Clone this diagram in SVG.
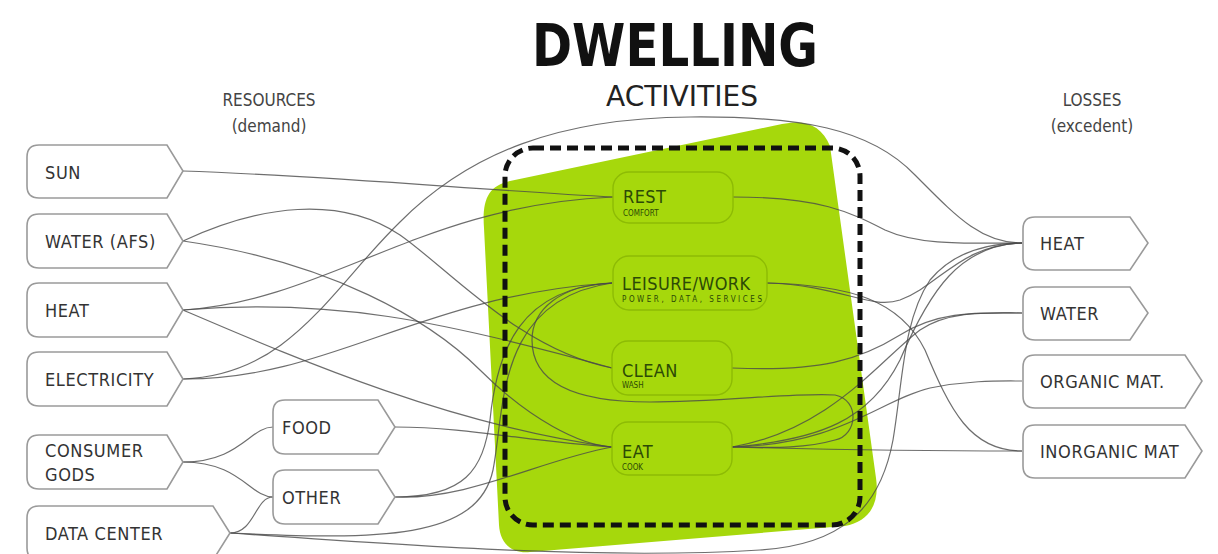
<svg xmlns="http://www.w3.org/2000/svg" width="1218" height="554" viewBox="0 0 1218 554">
  <style>
    .lbl { font-family: "DejaVu Sans Condensed", "DejaVu Sans", sans-serif; font-stretch: condensed; font-size: 18px; fill: #333; letter-spacing: 0.6px; }
    .hdr { font-family: "DejaVu Sans Condensed", "DejaVu Sans", sans-serif; font-stretch: condensed; font-size: 17px; fill: #444; }
    .box { fill: #fff; stroke: #9a9a9a; stroke-width: 1.6; }
    .act { fill: #a6d80c; stroke: #8dbb05; stroke-width: 1.4; }
    .actl { font-family: "DejaVu Sans Condensed", "DejaVu Sans", sans-serif; font-stretch: condensed; font-size: 18px; fill: #2c4a06; letter-spacing: 0.4px; }
    .acts { font-family: "DejaVu Sans Condensed", "DejaVu Sans", sans-serif; font-stretch: condensed; font-size: 8px; fill: #2c4a06; }
    .wire { fill: none; stroke: #4a4a4a; stroke-width: 1.2; stroke-opacity: 0.8; }
  </style>

  <rect width="1218" height="554" fill="#fff"/>

  <!-- titles -->
  <g id="titles">
    <text x="675" y="66" text-anchor="middle" textLength="286" lengthAdjust="spacingAndGlyphs" style="font-family:'DejaVu Sans Condensed','DejaVu Sans',sans-serif;font-stretch:condensed;font-weight:bold;font-size:58px;fill:#111">DWELLING</text>
    <text x="682" y="106" text-anchor="middle" textLength="152" lengthAdjust="spacingAndGlyphs" style="font-family:'DejaVu Sans Condensed','DejaVu Sans',sans-serif;font-stretch:condensed;font-size:28px;fill:#222">ACTIVITIES</text>
    <text class="hdr" x="269" y="106" text-anchor="middle">RESOURCES</text>
    <text class="hdr" x="269" y="132" text-anchor="middle">(demand)</text>
    <text class="hdr" x="1092" y="106" text-anchor="middle">LOSSES</text>
    <text class="hdr" x="1092" y="132" text-anchor="middle">(excedent)</text>
  </g>

  <!-- green activity field -->
  <path id="field" d="M484,228 C482,200 488,186 510,181 L782,124 C806,119 822,126 830,146 L876,478 C880,505 868,522 845,526 L530,552 C510,554 500,542 499,525 Z" fill="#a6d80c"/>

  <!-- connectors -->
  <g id="connectors">
    <!-- resources to activities -->
    <path class="wire" d="M183,171 C330,176 480,190 613,197"/>
    <path class="wire" d="M183,241 C260,205 340,195 400,235 C450,270 520,350 612,368"/>
    <path class="wire" d="M183,241 C330,262 430,320 480,370 C530,420 580,445 612,447"/>
    <path class="wire" d="M183,310 C330,300 420,205 613,197"/>
    <path class="wire" d="M183,310 C330,298 440,320 612,368"/>
    <path class="wire" d="M183,310 C300,360 450,425 612,447"/>
    <path class="wire" d="M183,379 C330,380 420,295 612,283"/>
    <path class="wire" d="M183,379 C290,375 330,290 400,222 C470,152 560,118 690,117 C800,116 870,128 915,175 C955,215 980,243 1022,243"/>
    <path class="wire" d="M183,462 C240,462 250,427 273,427"/>
    <path class="wire" d="M183,462 C240,462 250,497 273,497"/>
    <path class="wire" d="M230,533 C255,533 255,497 273,497"/>
    <path class="wire" d="M395,427 C470,427 530,442 612,447"/>
    <path class="wire" d="M395,497 C470,500 540,460 612,447"/>
    <path class="wire" d="M395,497 C465,497 483,470 490,420 C497,350 520,288 612,283"/>
    <path class="wire" d="M230,533 C380,540 478,540 493,470 C505,410 495,300 612,283"/>
    <path class="wire" d="M230,533 C400,545 600,560 760,550 C840,545 880,510 893,440 C903,380 903,320 930,280 C955,250 990,243 1022,243"/>
    <!-- loop between leisure/work and eat -->
    <path class="wire" d="M612,283 C560,285 532,310 532,340 C532,380 570,402 650,402 C720,402 800,392 835,395 C860,400 858,435 835,440 C800,450 760,447 732,447"/>
    <!-- activities to losses -->
    <path class="wire" d="M733,197 C820,197 850,212 885,230 C920,246 970,243 1022,243"/>
    <path class="wire" d="M767,283 C850,285 900,300 925,350 C950,410 970,451 1022,451"/>
    <path class="wire" d="M767,283 C840,285 870,310 900,300 C940,285 960,245 1022,243"/>
    <path class="wire" d="M732,368 C820,372 860,360 900,335 C940,310 980,313 1022,313"/>
    <path class="wire" d="M732,447 C820,440 870,420 900,360 C930,290 960,245 1022,243"/>
    <path class="wire" d="M732,447 C830,430 880,360 920,330 C950,310 990,313 1022,313"/>
    <path class="wire" d="M732,447 C840,445 880,400 930,388 C970,380 1000,381 1022,381"/>
    <path class="wire" d="M732,447 C850,450 950,451 1022,451"/>
  </g>

  <!-- dashed boundary -->
  <rect id="boundary" x="505" y="148" width="355" height="377" rx="28" fill="none" stroke="#111" stroke-width="5" stroke-dasharray="11 6"/>

  <!-- resource nodes -->
  <g id="sun"><path class="box" d="M39,145 H167 L183,171 L167,198 H39 Q27,198 27,186 V157 Q27,145 39,145 Z"/><text class="lbl" x="45" y="179">SUN</text></g>
  <g id="water-afs"><path class="box" d="M39,214 H167 L183,241 L167,268 H39 Q27,268 27,256 V226 Q27,214 39,214 Z"/><text class="lbl" x="45" y="248">WATER (AFS)</text></g>
  <g id="heat-in"><path class="box" d="M39,283 H167 L183,310 L167,337 H39 Q27,337 27,325 V295 Q27,283 39,283 Z"/><text class="lbl" x="45" y="317">HEAT</text></g>
  <g id="electricity"><path class="box" d="M39,352 H167 L183,379 L167,406 H39 Q27,406 27,394 V364 Q27,352 39,352 Z"/><text class="lbl" x="45" y="386">ELECTRICITY</text></g>
  <g id="consumer-gods"><path class="box" d="M39,435 H167 L183,462 L167,489 H39 Q27,489 27,477 V447 Q27,435 39,435 Z"/><text class="lbl" x="45" y="457">CONSUMER</text><text class="lbl" x="45" y="481">GODS</text></g>
  <g id="data-center"><path class="box" d="M39,506 H213 L230,533 L213,560 H39 Q27,560 27,548 V518 Q27,506 39,506 Z"/><text class="lbl" x="45" y="540">DATA CENTER</text></g>
  <g id="food"><path class="box" d="M285,400 H378 L395,427 L378,454 H285 Q273,454 273,442 V412 Q273,400 285,400 Z"/><text class="lbl" x="282" y="434">FOOD</text></g>
  <g id="other"><path class="box" d="M285,470 H378 L395,497 L378,524 H285 Q273,524 273,512 V482 Q273,470 285,470 Z"/><text class="lbl" x="282" y="504">OTHER</text></g>

  <!-- activity nodes -->
  <g id="rest"><rect class="act" x="613" y="172" width="120" height="51" rx="16"/><text class="actl" x="623" y="203">REST</text><text class="acts" x="623" y="216">COMFORT</text></g>
  <g id="leisure-work"><rect class="act" x="613" y="256" width="154" height="54" rx="16"/><text class="actl" x="622" y="290">LEISURE/WORK</text><text class="acts" x="622" y="302" textLength="140">POWER, DATA, SERVICES</text></g>
  <g id="clean"><rect class="act" x="612" y="341" width="120" height="54" rx="16"/><text class="actl" x="622" y="377">CLEAN</text><text class="acts" x="622" y="388">WASH</text></g>
  <g id="eat"><rect class="act" x="612" y="422" width="120" height="53" rx="16"/><text class="actl" x="622" y="458">EAT</text><text class="acts" x="622" y="470">COOK</text></g>

  <!-- loss nodes -->
  <g id="heat-out"><path class="box" d="M1035,217 H1130 L1148,243 L1130,270 H1035 Q1023,270 1023,258 V229 Q1023,217 1035,217 Z"/><text class="lbl" x="1040" y="250">HEAT</text></g>
  <g id="water-out"><path class="box" d="M1035,287 H1130 L1148,313 L1130,340 H1035 Q1023,340 1023,328 V299 Q1023,287 1035,287 Z"/><text class="lbl" x="1040" y="320">WATER</text></g>
  <g id="organic"><path class="box" d="M1035,355 H1185 L1202,381 L1185,408 H1035 Q1023,408 1023,396 V367 Q1023,355 1035,355 Z"/><text class="lbl" x="1040" y="388">ORGANIC MAT.</text></g>
  <g id="inorganic"><path class="box" d="M1035,425 H1185 L1202,451 L1185,478 H1035 Q1023,478 1023,466 V437 Q1023,425 1035,425 Z"/><text class="lbl" x="1040" y="458">INORGANIC MAT</text></g>
</svg>
